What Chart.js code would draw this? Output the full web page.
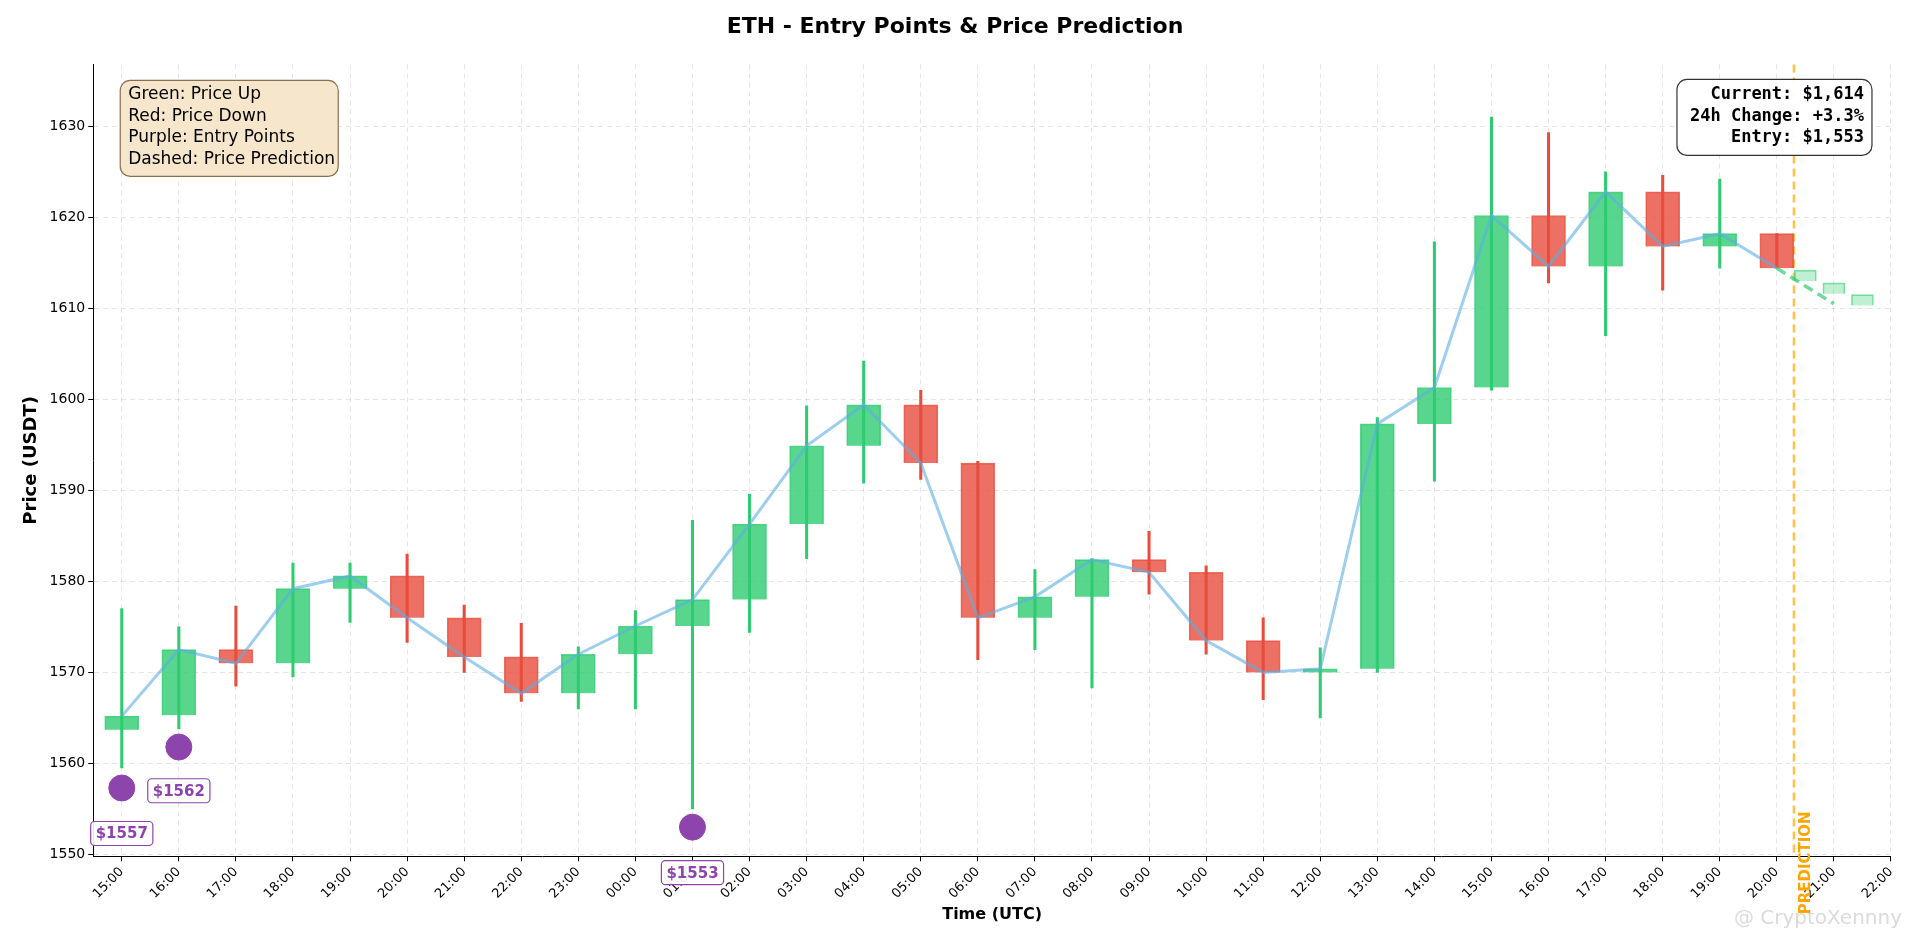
<!DOCTYPE html>
<html><head><meta charset="utf-8">
<script src="https://cdn.jsdelivr.net/npm/chart.js@4"></script>
<style>html,body{margin:0;padding:0;background:#fff}#wrap{width:1905px;height:947px}</style>
</head><body><div id="wrap"><canvas id="c"></canvas></div>
<script>
const hourLabels=["15:00","16:00","17:00","18:00","19:00","20:00","21:00","22:00","23:00","00:00","01:00","02:00","03:00","04:00","05:00","06:00","07:00","08:00","09:00","10:00","11:00","12:00","13:00","14:00","15:00","16:00","17:00","18:00","19:00","20:00","21:00","22:00"];
const opens =[1563.7,1565.3,1572.5,1571.0,1579.2,1580.6,1576.0,1571.7,1567.7,1572.0,1575.1,1578.0,1586.3,1594.9,1599.4,1593.0,1576.0,1578.3,1582.4,1581.0,1573.5,1570.0,1570.4,1597.3,1601.3,1620.2,1614.6,1622.8,1616.8,1618.2];
const closes=[1565.2,1572.5,1571.0,1579.2,1580.6,1576.0,1571.7,1567.7,1572.0,1575.1,1578.0,1586.3,1594.9,1599.4,1593.0,1576.0,1578.3,1582.4,1581.0,1573.5,1570.0,1570.4,1597.3,1601.3,1620.2,1614.6,1622.8,1616.8,1618.2,1614.4];
const highs =[1577.0,1575.0,1577.3,1582.0,1582.0,1583.0,1577.4,1575.4,1572.8,1576.8,1586.7,1589.6,1599.3,1604.2,1601.0,1593.2,1581.3,1582.5,1585.5,1581.7,1576.0,1572.7,1598.0,1617.3,1631.0,1629.3,1625.0,1624.6,1624.2,1618.2];
const lows  =[1559.5,1563.8,1568.5,1569.5,1575.5,1573.3,1570.0,1566.8,1566.0,1566.0,1555.0,1574.4,1582.5,1590.8,1591.2,1571.4,1572.5,1568.3,1578.6,1572.0,1567.0,1565.0,1570.0,1591.0,1601.0,1612.8,1607.0,1612.0,1614.4,1614.4];
const predX=[29.5,30,30.5];
const predOpen=[1614.2,1612.8,1611.5];
const predClose=[1613.0,1611.6,1610.3];
const predLineX=[29,30];
const predLineY=[1614.4,1610.5];
const entryX=[0,1,10];
const entryY=[1557.3,1561.8,1553.0];
const entryLabels=["$1557","$1562","$1553"];

const S=1.215;
const G='rgba(46,204,113,0.8)',R='rgba(231,76,60,0.8)';
const cols=opens.map((o,i)=>closes[i]>=o?G:R);
const wickCols=opens.map((o,i)=>closes[i]>=o?'#2ecc71':'#e74c3c');

const overlay={id:'ov',
 beforeDatasetsDraw(ch){const {ctx,chartArea:a,scales:{x,y}}=ch;
  ctx.save();ctx.strokeStyle='rgba(255,165,0,0.7)';ctx.lineWidth=2.5;ctx.setLineDash([8,5]);
  const px=x.getPixelForValue(29.3);ctx.beginPath();ctx.moveTo(px,a.top);ctx.lineTo(px,a.bottom);ctx.stroke();ctx.restore();
 },
 afterDraw(ch){const {ctx,chartArea:a,scales:{x,y}}=ch;
  ctx.save();
  function rr(x0,y0,w,h,r,fill,stroke){ctx.beginPath();ctx.roundRect(x0,y0,w,h,r);ctx.fillStyle=fill;ctx.fill();ctx.strokeStyle=stroke;ctx.lineWidth=1.2;ctx.stroke();}
  rr(a.left+27,a.top+16,218,96,10,'rgba(245,229,200,0.95)','#8b6e4e');
  ctx.fillStyle='#000';ctx.font=(14*S|0)+'px "DejaVu Sans"';ctx.textBaseline='top';ctx.textAlign='left';
  ["Green: Price Up","Red: Price Down","Purple: Entry Points","Dashed: Price Prediction"].forEach((t,i)=>ctx.fillText(t,a.left+35,a.top+22+i*21.5));
  rr(a.right-214,a.top+15,195,76,10,'rgba(255,255,255,0.95)','#333');
  ctx.fillStyle='#000';ctx.font='bold '+(14*S|0)+'px "DejaVu Sans Mono"';ctx.textAlign='right';
  ["Current: $1,614","24h Change: +3.3%","Entry: $1,553"].forEach((t,i)=>ctx.fillText(t,a.right-27,a.top+22+i*21.5));
  ctx.font='bold '+(13*S|0)+'px "DejaVu Sans"';ctx.textAlign='center';ctx.textBaseline='middle';
  const dx=[0,0,0], dy=[-5.0,-4.8,-5.0];
  entryLabels.forEach((t,i)=>{
    let lx=x.getPixelForValue(entryX[i])+dx[i], ly=y.getPixelForValue(entryY[i]+dy[i]);
    const w=ctx.measureText(t).width+10;
    rr(lx-w/2,ly-12,w,24,4,'rgba(255,255,255,0.9)','#8e44ad');ctx.fillStyle='#8e44ad';ctx.fillText(t,lx,ly+1);});
  ctx.save();ctx.translate(x.getPixelForValue(29.3)+12,a.bottom+58);ctx.rotate(-Math.PI/2);
  ctx.fillStyle='orange';ctx.font='bold '+(13*S|0)+'px "DejaVu Sans"';ctx.textAlign='left';ctx.textBaseline='middle';ctx.fillText('PREDICTION',0,0);ctx.restore();
  ctx.fillStyle='rgba(150,150,150,0.35)';ctx.font=(17*S|0)+'px "DejaVu Sans"';ctx.textAlign='right';ctx.textBaseline='alphabetic';ctx.fillText('@ CryptoXennny',1902,a.bottom+68);
  ctx.restore();
 }};

new Chart(document.getElementById('c'),{
 data:{datasets:[
  {type:'bar',data:highs.map((h,i)=>({x:i,y:[lows[i],h]})),backgroundColor:wickCols,barThickness:2.4,grouped:false,order:5},
  {type:'bar',data:opens.map((o,i)=>({x:i,y:[o,closes[i]]})),backgroundColor:cols,borderColor:cols,borderWidth:1,barThickness:34,grouped:false,order:4},
  {type:'bar',data:predX.map((v,i)=>({x:v,y:[predOpen[i],predClose[i]]})),backgroundColor:'rgba(46,204,113,0.3)',borderColor:'rgba(46,204,113,0.6)',borderWidth:1,barThickness:22,grouped:false,order:3},
  {type:'line',data:closes.map((c,i)=>({x:i,y:c})),borderColor:'rgba(93,173,226,0.6)',borderWidth:3,pointRadius:0,order:2},
  {type:'line',data:predLineX.map((v,i)=>({x:v,y:predLineY[i]})),borderColor:'rgba(46,204,113,0.7)',borderWidth:3.5,borderDash:[10,6],pointRadius:0,order:2},
  {type:'scatter',data:entryX.map((v,i)=>({x:v,y:entryY[i]})),backgroundColor:'#8e44ad',borderColor:'#8e44ad',pointRadius:13,order:1}
 ]},
 options:{responsive:true,maintainAspectRatio:false,animation:false,
  layout:{padding:{left:17,right:12,top:6,bottom:19}},
  plugins:{legend:{display:false},tooltip:{enabled:false},
   title:{display:true,text:'ETH - Entry Points & Price Prediction',color:'#000',font:{family:'DejaVu Sans',size:22,weight:'bold'},padding:{top:8,bottom:24}}},
  scales:{
   x:{type:'linear',min:-0.5,max:31,offset:false,
    afterBuildTicks(ax){ax.ticks=hourLabels.map((_,i)=>({value:i}));},
    ticks:{autoSkip:false,maxRotation:45,minRotation:45,color:'#000',font:{family:'DejaVu Sans',size:13},callback:(v)=>hourLabels[v]},
    grid:{color:'rgba(0,0,0,0.1)',tickColor:'#000',tickLength:5,offset:false},border:{color:'#000',dash:[5,4]},
    title:{display:true,text:'Time (UTC)',color:'#000',font:{family:'DejaVu Sans',size:16,weight:'bold'},padding:{top:0}}},
   y:{min:1549.8,max:1636.8,
    afterBuildTicks(ax){const t=[];for(let v=1550;v<=1630;v+=10)t.push({value:v});ax.ticks=t;},
    ticks:{color:'#000',font:{family:'DejaVu Sans',size:14},callback:v=>String(v)},
    grid:{color:'rgba(0,0,0,0.1)',tickColor:'#000',tickLength:5},border:{color:'#000',dash:[5,4]},
    title:{display:true,text:'Price (USDT)',color:'#000',font:{family:'DejaVu Sans',size:18,weight:'bold'}}}
  }},
 plugins:[overlay]
});
</script></body></html>
